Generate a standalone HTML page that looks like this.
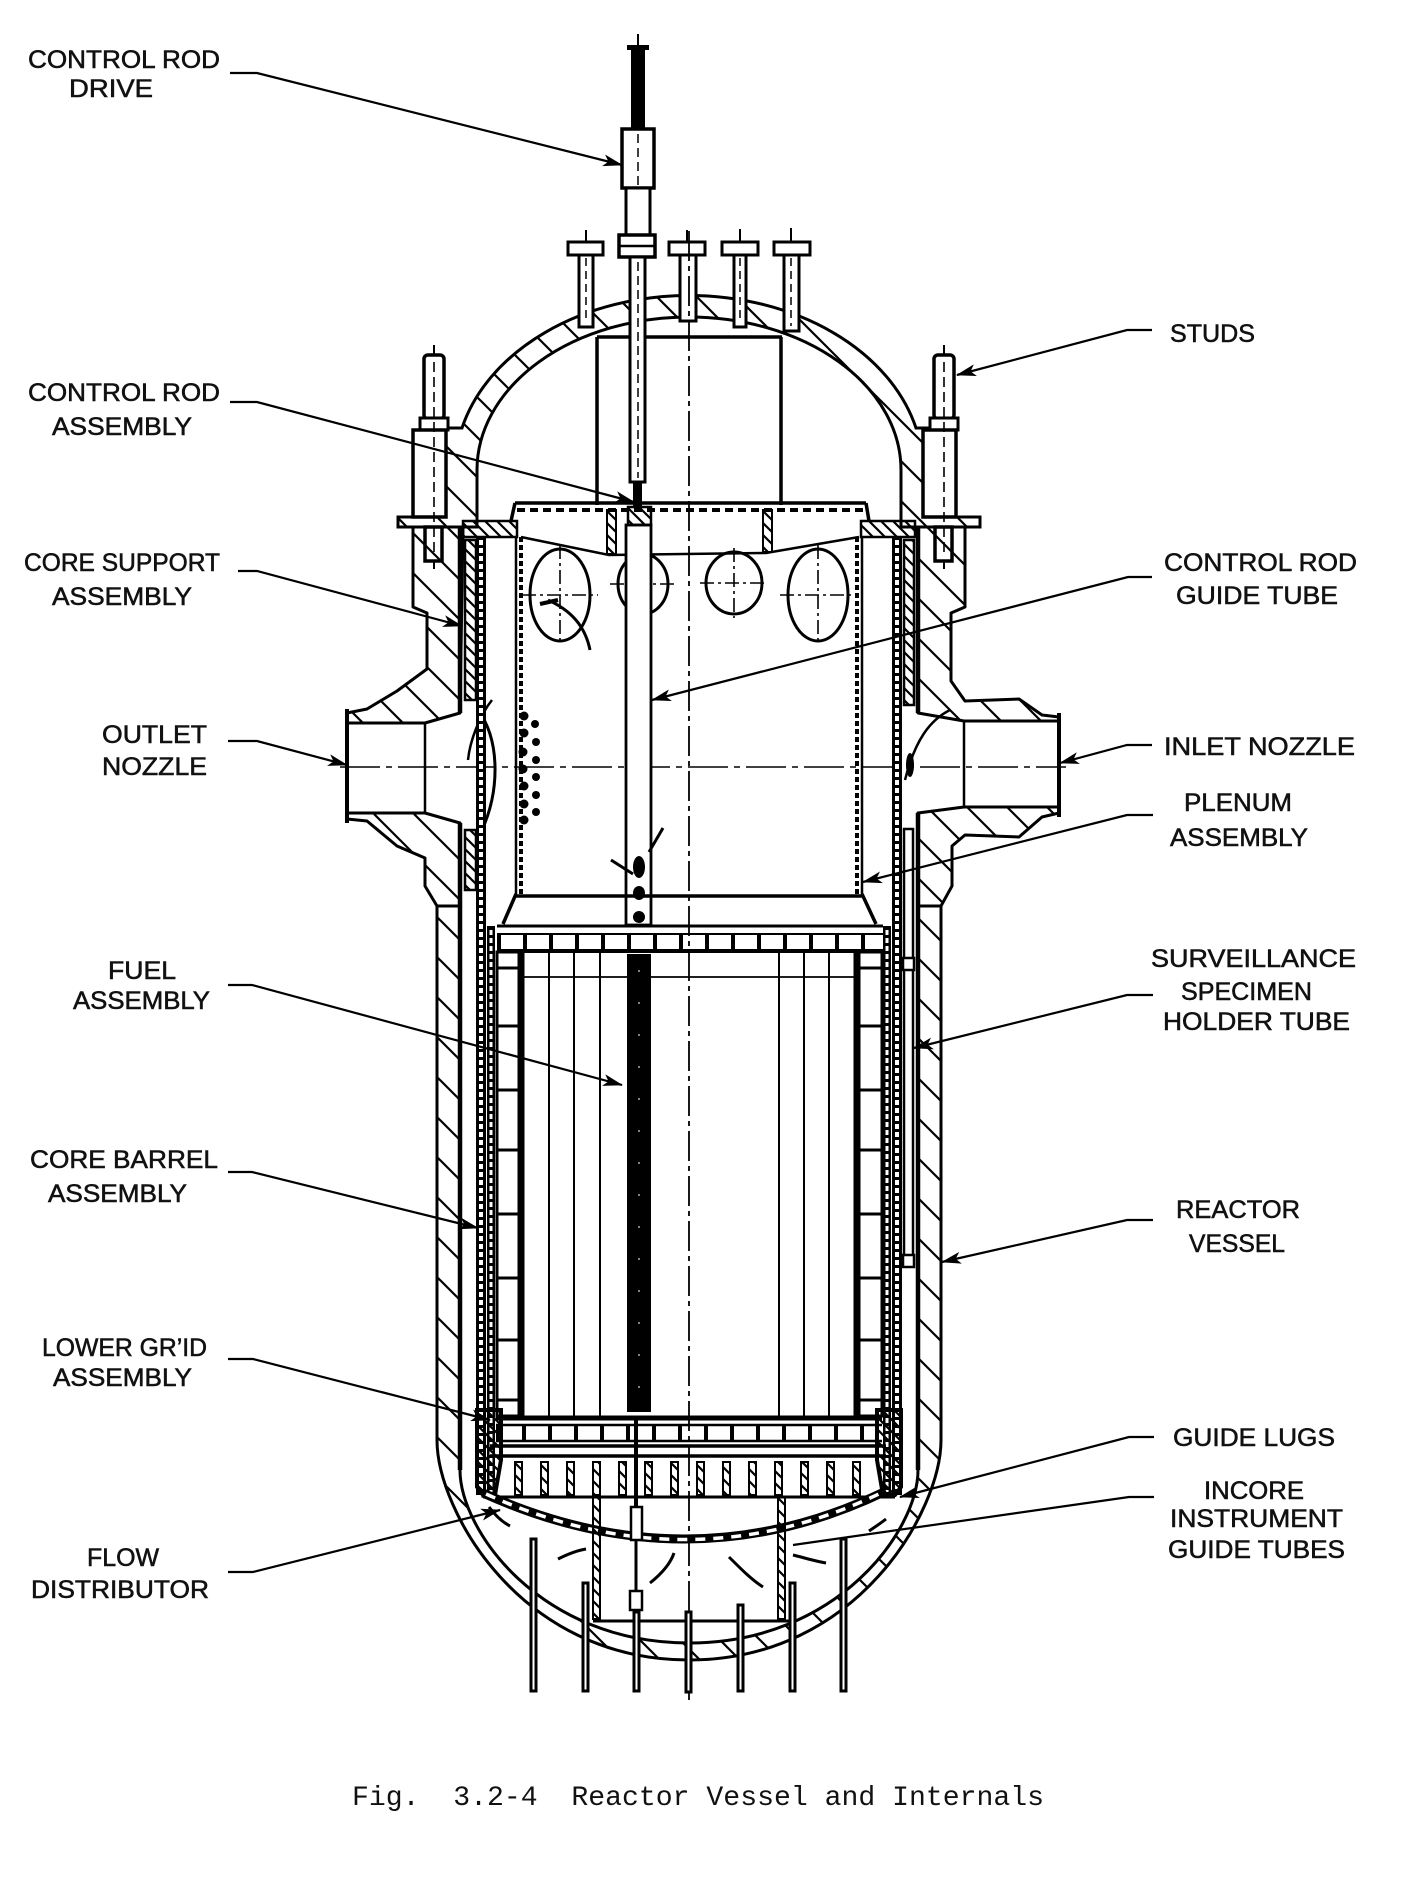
<!DOCTYPE html>
<html><head><meta charset="utf-8"><title>Fig. 3.2-4 Reactor Vessel and Internals</title>
<style>
html,body{margin:0;padding:0;background:#fff;}
body{width:1427px;height:1887px;overflow:hidden;position:relative;}
svg{position:absolute;left:0;top:0;}
.lb{font-family:"Liberation Sans",Arial,sans-serif;font-size:25px;fill:#111;stroke:#111;stroke-width:0.55px;}
.cap{font-family:"Liberation Mono","Courier New",monospace;font-size:28px;fill:#111;}
.ld{fill:none;stroke:#000;stroke-width:2.2;}
.k{stroke:#000;fill:none;}
.w{stroke:#000;fill:#fff;}
</style></head><body>
<svg width="1427" height="1887" viewBox="0 0 1427 1887" xmlns="http://www.w3.org/2000/svg">
<defs>
 <pattern id="h" width="40" height="40" patternUnits="userSpaceOnUse"><path d="M-10,-10L50,50M-10,30L10,50M30,-10L50,10" stroke="#000" stroke-width="2.2"/></pattern>
 <pattern id="hs" width="12" height="12" patternUnits="userSpaceOnUse"><path d="M-3,-3L15,15M-3,9L3,15M9,-3L15,3" stroke="#000" stroke-width="2.2"/></pattern>
 <marker id="a" markerWidth="22" markerHeight="12" refX="19" refY="6" orient="auto" markerUnits="userSpaceOnUse"><path d="M0,0L20,6L0,12L5,6Z" fill="#000"/></marker>
</defs>

<!-- ===== CLOSURE HEAD ===== -->
<path d="M462,428 A234,175 0 0 1 916,428 L932,428 L932,517 L980,517 L980,527 L901,527 L901,470 A212,153 0 0 0 477,470 L477,527 L398,527 L398,517 L446,517 L446,428 Z" fill="url(#h)" stroke="#000" stroke-width="3"/>

<!-- head internal support cylinder -->
<path d="M597,337 L782,337 M597,337 L597,505 M781,337 L781,505" class="k" stroke-width="3.5"/>

<!-- head nozzles -->
<g stroke="#000" stroke-width="3" fill="#fff">
 <rect x="579" y="255" width="14" height="72"/><rect x="568" y="242" width="35" height="13"/>
 <rect x="680" y="255" width="16" height="66"/><rect x="669" y="242" width="36" height="13"/>
 <rect x="734" y="255" width="12" height="72"/><rect x="722" y="242" width="36" height="13"/>
 <rect x="784" y="255" width="15" height="76"/><rect x="774" y="242" width="36" height="13"/>
</g>
<path d="M586,230V242M687,230V242M740,229V242M791,228V242" stroke="#000" stroke-width="2"/>
<path d="M586,258V322M740,258V322M791,258V326" stroke="#000" stroke-width="1.5" stroke-dasharray="8,5"/>

<!-- control rod drive -->
<path d="M638,34V48" stroke="#000" stroke-width="2"/>
<rect x="627" y="45" width="22" height="5" fill="#000"/>
<rect x="631" y="48" width="14" height="82" fill="#000"/>
<rect x="622" y="129" width="32" height="59" class="w" stroke-width="3.5"/>
<rect x="626" y="188" width="24" height="47" class="w" stroke-width="3"/>
<rect x="619" y="235" width="36" height="22" class="w" stroke-width="3.5"/>
<path d="M619,246H655" stroke="#000" stroke-width="2.5"/>
<rect x="630" y="257" width="15" height="225" class="w" stroke-width="3"/>
<rect x="633" y="482" width="9" height="25" fill="#000"/>
<path d="M638,134V186M638,262V478" stroke="#000" stroke-width="1.5" stroke-dasharray="9,5"/>

<!-- studs -->
<g id="stud">
 <path d="M434,345V357" stroke="#000" stroke-width="2"/>
 <rect x="424" y="355" width="20" height="64" rx="4" class="w" stroke-width="3.5"/>
 <rect x="420" y="418" width="28" height="12" class="w" stroke-width="3"/>
 <rect x="413" y="430" width="33" height="87" class="w" stroke-width="3.5"/>
 <rect x="425" y="527" width="17" height="34" class="w" stroke-width="3.5"/>
 <path d="M434,561V569" stroke="#000" stroke-width="2"/>
 <path d="M434,362V555" stroke="#000" stroke-width="1.6" stroke-dasharray="10,5"/>
</g>
<use href="#stud" transform="translate(510,0)"/>

<!-- ===== VESSEL ===== -->
<g fill="url(#h)" stroke="#000" stroke-width="3" stroke-linejoin="round">
 <polygon points="413,527 463,527 460,713 425,723 347,723 347,713 367,709 397,691 427,669 427,640 427,613 413,607"/>
 <polygon points="347,813 425,813 460,823 460,906 437,906 425,886 425,858 397,846 367,821 347,819"/>
 <polygon points="918,527 965,527 965,607 951,613 951,681 965,701 1019,699 1042,715 1059,717 1059,721 964,721 918,713"/>
 <polygon points="918,813 964,807 1059,807 1059,813 1042,817 1019,837 965,835 952,846 952,886 941,906 918,906"/>
 <path d="M437,906 L437,1440 C437,1510 520,1660 689,1660 C858,1660 941,1510 941,1440 L941,906 L918,906 L918,1470 C918,1530 838,1643 689,1643 C540,1643 460,1530 460,1470 L460,906 Z"/>
</g>
<!-- thick inner wall lines -->
<path d="M460,527V713M460,823V1470M918,527V713M918,813V1470" stroke="#000" stroke-width="4.5"/>
<!-- nozzle steps & faces -->
<path d="M425,723V813M964,721V807" stroke="#000" stroke-width="2.5"/>
<path d="M347,709V823M1059,713V817" stroke="#000" stroke-width="4"/>
<path d="M340,767H1066" stroke="#000" stroke-width="1.6" stroke-dasharray="40,6,6,6"/>

<!-- ===== INTERNALS ===== -->
<!-- core support near nozzles -->
<rect x="465" y="540" width="11" height="160" fill="url(#hs)" stroke="#000" stroke-width="2.5"/>
<rect x="465" y="830" width="11" height="60" fill="url(#hs)" stroke="#000" stroke-width="2.5"/>
<rect x="904" y="540" width="10" height="165" fill="url(#hs)" stroke="#000" stroke-width="2.5"/>

<!-- plenum flange/cover -->
<rect x="463" y="521" width="54" height="16" fill="url(#hs)" stroke="#000" stroke-width="2.5"/>
<rect x="861" y="521" width="54" height="16" fill="url(#hs)" stroke="#000" stroke-width="2.5"/>
<path d="M515,503H866M515,503L511,521M866,503L869,521" class="k" stroke-width="3.5"/>
<path d="M517,510H864" stroke="#000" stroke-width="4" stroke-dasharray="8,5"/>
<path d="M521,537 L609,555 L766,553 L859,537" class="k" stroke-width="2.5"/>
<rect x="607" y="510" width="9" height="44" fill="url(#hs)" stroke="#000" stroke-width="2"/>
<rect x="763" y="510" width="9" height="42" fill="url(#hs)" stroke="#000" stroke-width="2"/>

<!-- plenum walls -->
<path d="M516,537V895M862,537V895" stroke="#000" stroke-width="2.5"/>
<path d="M521,537V895M857,537V895" stroke="#000" stroke-width="4" stroke-dasharray="5,3"/>

<!-- plenum holes -->
<g class="k" stroke-width="3">
 <ellipse cx="560" cy="595" rx="30" ry="46"/>
 <ellipse cx="643" cy="584" rx="25" ry="30"/>
 <ellipse cx="734" cy="583" rx="28" ry="31"/>
 <ellipse cx="818" cy="595" rx="30" ry="46"/>
</g>
<path d="M522,595H598M560,545V645M610,584H676M643,550V618M700,583H768M734,548V618M780,595H856M818,545V645" stroke="#000" stroke-width="1.6" stroke-dasharray="14,4,3,4"/>
<path d="M548,600 C570,610 585,625 590,650" class="k" stroke-width="3"/>
<path d="M540,604 L558,600" class="k" stroke-width="4"/>

<!-- guide tube -->
<rect x="626" y="525" width="25" height="400" class="w" stroke-width="2.8"/>
<rect x="628" y="507" width="23" height="18" fill="url(#hs)" stroke="#000" stroke-width="2.5"/>
<!-- spider -->
<ellipse cx="639" cy="867" rx="6" ry="11" fill="#000"/>
<ellipse cx="639" cy="893" rx="6" ry="7" fill="#000"/>
<ellipse cx="639" cy="917" rx="6" ry="6" fill="#000"/>
<path d="M611,860 L633,874 M649,852 L663,828" class="k" stroke-width="3"/>

<!-- outlet perforations -->
<g fill="#000">
 <circle cx="524" cy="716" r="4.5"/><circle cx="535" cy="724" r="4"/><circle cx="524" cy="733" r="4.5"/><circle cx="536" cy="742" r="4"/>
 <circle cx="523" cy="752" r="4.5"/><circle cx="536" cy="760" r="4"/><circle cx="523" cy="769" r="4.5"/><circle cx="536" cy="777" r="4"/>
 <circle cx="524" cy="786" r="4.5"/><circle cx="536" cy="795" r="4"/><circle cx="524" cy="804" r="4.5"/><circle cx="536" cy="812" r="4"/><circle cx="524" cy="820" r="4.5"/>
</g>
<!-- nozzle flow arrows -->
<path d="M478,710 C500,740 500,790 482,830" class="k" stroke-width="3"/>
<path d="M492,700 C480,715 470,740 468,760" class="k" stroke-width="2.5"/>
<path d="M905,780 C915,740 930,720 950,710" class="k" stroke-width="2.5"/>
<ellipse cx="910" cy="765" rx="4" ry="12" fill="#000"/>
<ellipse cx="481" cy="767" rx="4" ry="14" fill="#000"/>

<!-- plenum bottom & upper grid -->
<path d="M516,896H862M516,894L503,924M862,894L876,924" class="k" stroke-width="3.5"/>
<path d="M497,926H883" stroke="#000" stroke-width="3"/>
<path d="M497,934H883" stroke="#000" stroke-width="2"/>
<path d="M497,942H883" stroke="#000" stroke-width="14" stroke-dasharray="4,22"/>
<path d="M497,951H883" stroke="#000" stroke-width="4"/>

<!-- core barrel & thermal shield -->
<rect x="476" y="537" width="10" height="958" fill="#000"/>
<path d="M481,540V1492" stroke="#fff" stroke-width="4" stroke-dasharray="5,3"/>
<rect x="487" y="926" width="8" height="569" fill="#000"/>
<path d="M491,930V1492" stroke="#fff" stroke-width="3" stroke-dasharray="5,3"/>
<rect x="892" y="537" width="10" height="958" fill="#000"/>
<path d="M897,540V1492" stroke="#fff" stroke-width="4" stroke-dasharray="5,3"/>
<rect x="883" y="926" width="8" height="569" fill="#000"/>
<path d="M887,930V1492" stroke="#fff" stroke-width="3" stroke-dasharray="5,3"/>

<!-- surveillance tube -->
<rect x="904" y="829" width="9" height="437" class="w" stroke-width="2.5"/>
<rect x="903" y="958" width="11" height="12" class="w" stroke-width="2.5"/>
<rect x="903" y="1255" width="11" height="12" class="w" stroke-width="2.5"/>

<!-- baffles -->
<g class="k" stroke-width="3">
 <rect x="497" y="952" width="22" height="16"/><rect x="497" y="968" width="22" height="58"/><rect x="497" y="1026" width="22" height="64"/>
 <rect x="497" y="1090" width="22" height="60"/><rect x="497" y="1150" width="22" height="64"/><rect x="497" y="1214" width="22" height="64"/>
 <rect x="497" y="1278" width="22" height="62"/><rect x="497" y="1340" width="22" height="60"/><rect x="497" y="1400" width="22" height="16"/>
 <rect x="859" y="952" width="23" height="16"/><rect x="859" y="968" width="23" height="58"/><rect x="859" y="1026" width="23" height="64"/>
 <rect x="859" y="1090" width="23" height="60"/><rect x="859" y="1150" width="23" height="64"/><rect x="859" y="1214" width="23" height="64"/>
 <rect x="859" y="1278" width="23" height="62"/><rect x="859" y="1340" width="23" height="60"/><rect x="859" y="1400" width="23" height="16"/>
</g>

<!-- fuel assemblies -->
<path d="M522,952V1416M856,952V1416" stroke="#000" stroke-width="5"/>
<path d="M549,952V1416M574,952V1416M600,952V1416M779,952V1416M804,952V1416M829,952V1416" stroke="#000" stroke-width="2"/>
<path d="M524,977H854" stroke="#000" stroke-width="1.8"/>
<rect x="627" y="954" width="24" height="458" fill="#000"/>
<path d="M639,970V1400" stroke="#fff" stroke-width="1" stroke-dasharray="2,30"/>

<!-- centerline -->
<path d="M689,231V1700" stroke="#000" stroke-width="1.8" stroke-dasharray="30,5,5,5"/>

<!-- lower grid -->
<path d="M496,1418H882" stroke="#000" stroke-width="5"/>
<path d="M496,1425H882M496,1441H882" stroke="#000" stroke-width="2.5"/>
<path d="M496,1433H882" stroke="#000" stroke-width="16" stroke-dasharray="4,22"/>
<path d="M490,1446H886M490,1456H886" stroke="#000" stroke-width="3.5"/>
<g fill="url(#hs)" stroke="#000" stroke-width="2">
 <rect x="515" y="1462" width="7" height="33"/><rect x="541" y="1462" width="7" height="33"/><rect x="567" y="1462" width="7" height="33"/>
 <rect x="593" y="1462" width="7" height="33"/><rect x="619" y="1462" width="7" height="33"/><rect x="645" y="1462" width="7" height="33"/>
 <rect x="671" y="1462" width="7" height="33"/><rect x="697" y="1462" width="7" height="33"/><rect x="723" y="1462" width="7" height="33"/>
 <rect x="749" y="1462" width="7" height="33"/><rect x="775" y="1462" width="7" height="33"/><rect x="801" y="1462" width="7" height="33"/>
 <rect x="827" y="1462" width="7" height="33"/><rect x="853" y="1462" width="7" height="33"/>
</g>
<path d="M483,1497H895" stroke="#000" stroke-width="3"/>
<polygon points="477,1410 501,1410 501,1460 495,1495 483,1495 477,1487" fill="url(#hs)" stroke="#000" stroke-width="4"/>
<polygon points="901,1410 877,1410 877,1460 883,1495 895,1495 901,1487" fill="url(#hs)" stroke="#000" stroke-width="4"/>

<!-- flow distributor -->
<path d="M483,1493 Q689,1586 886,1491" fill="none" stroke="#000" stroke-width="9"/>
<path d="M486,1494 Q689,1586 883,1492" fill="none" stroke="#fff" stroke-width="3.5" stroke-dasharray="10,8"/>
<rect x="593" y="1497" width="7" height="122" fill="url(#hs)" stroke="#000" stroke-width="2"/>
<rect x="778" y="1497" width="7" height="122" fill="url(#hs)" stroke="#000" stroke-width="2"/>
<path d="M593,1621H793" stroke="#000" stroke-width="3"/>

<!-- incore instrument tube inside -->
<path d="M636,1420V1507" stroke="#000" stroke-width="4"/>
<rect x="631" y="1507" width="11" height="33" class="w" stroke-width="2.5"/>
<path d="M636,1540V1591" stroke="#000" stroke-width="3"/>
<rect x="630" y="1591" width="12" height="19" class="w" stroke-width="2.5"/>

<!-- incore tubes below vessel -->
<g stroke="#000" stroke-width="3" fill="#fff">
 <rect x="531" y="1539" width="5" height="152"/>
 <rect x="583" y="1583" width="5" height="108"/>
 <rect x="634" y="1612" width="5" height="79"/>
 <rect x="686" y="1612" width="5" height="80"/>
 <rect x="738" y="1605" width="5" height="86"/>
 <rect x="790" y="1583" width="5" height="108"/>
 <rect x="841" y="1539" width="5" height="152"/>
</g>

<!-- flow arrows lower plenum -->
<g class="k" stroke-width="3">
 <path d="M558,1559 C570,1553 580,1550 586,1549"/>
 <path d="M729,1557 C742,1570 752,1580 763,1587"/>
 <path d="M793,1555 C805,1558 815,1561 826,1563"/>
 <path d="M489,1507 C495,1515 502,1522 510,1526"/>
 <path d="M869,1531 C875,1527 881,1523 886,1519"/>
 <path d="M650,1583 C660,1575 670,1565 674,1553"/>
</g>

<!-- ===== LEADERS ===== -->
<g class="ld">
 <polyline points="230,73 257,73 622,165" marker-end="url(#a)"/>
 <polyline points="230,402 257,402 634,502" marker-end="url(#a)"/>
 <polyline points="238,571 257,571 462,626" marker-end="url(#a)"/>
 <polyline points="228,741 257,741 347,765" marker-end="url(#a)"/>
 <polyline points="228,985 252,985 622,1085" marker-end="url(#a)"/>
 <polyline points="228,1172 252,1172 478,1228" marker-end="url(#a)"/>
 <polyline points="228,1359 253,1359 490,1420" marker-end="url(#a)"/>
 <polyline points="228,1572 253,1572 500,1510" marker-end="url(#a)"/>
 <polyline points="1152,330 1127,330 957,375" marker-end="url(#a)"/>
 <polyline points="1152,577 1128,577 652,700" marker-end="url(#a)"/>
 <polyline points="1152,745 1127,745 1060,763" marker-end="url(#a)"/>
 <polyline points="1153,815 1127,815 863,882" marker-end="url(#a)"/>
 <polyline points="1153,995 1127,995 914,1048" marker-end="url(#a)"/>
 <polyline points="1153,1220 1127,1220 942,1262" marker-end="url(#a)"/>
 <polyline points="1154,1437 1129,1437 900,1497" marker-end="url(#a)"/>
 <polyline points="1154,1497 1129,1497 793,1545"/>
</g>

<!-- ===== LABELS ===== -->
<g class="lb">
 <text x="28" y="68" textLength="192" lengthAdjust="spacingAndGlyphs">CONTROL ROD</text>
 <text x="69" y="97" textLength="84" lengthAdjust="spacingAndGlyphs">DRIVE</text>
 <text x="28" y="401" textLength="192" lengthAdjust="spacingAndGlyphs">CONTROL ROD</text>
 <text x="52" y="435" textLength="140" lengthAdjust="spacingAndGlyphs">ASSEMBLY</text>
 <text x="24" y="571" textLength="196" lengthAdjust="spacingAndGlyphs">CORE SUPPORT</text>
 <text x="52" y="605" textLength="140" lengthAdjust="spacingAndGlyphs">ASSEMBLY</text>
 <text x="102" y="743" textLength="105" lengthAdjust="spacingAndGlyphs">OUTLET</text>
 <text x="102" y="775" textLength="105" lengthAdjust="spacingAndGlyphs">NOZZLE</text>
 <text x="108" y="979" textLength="68" lengthAdjust="spacingAndGlyphs">FUEL</text>
 <text x="73" y="1009" textLength="137" lengthAdjust="spacingAndGlyphs">ASSEMBLY</text>
 <text x="30" y="1168" textLength="188" lengthAdjust="spacingAndGlyphs">CORE BARREL</text>
 <text x="48" y="1202" textLength="139" lengthAdjust="spacingAndGlyphs">ASSEMBLY</text>
 <text x="42" y="1356" textLength="165" lengthAdjust="spacingAndGlyphs">LOWER GR’ID</text>
 <text x="53" y="1386" textLength="139" lengthAdjust="spacingAndGlyphs">ASSEMBLY</text>
 <text x="87" y="1566" textLength="72" lengthAdjust="spacingAndGlyphs">FLOW</text>
 <text x="31" y="1598" textLength="178" lengthAdjust="spacingAndGlyphs">DISTRIBUTOR</text>

 <text x="1170" y="342" textLength="85" lengthAdjust="spacingAndGlyphs">STUDS</text>
 <text x="1164" y="571" textLength="193" lengthAdjust="spacingAndGlyphs">CONTROL ROD</text>
 <text x="1176" y="604" textLength="162" lengthAdjust="spacingAndGlyphs">GUIDE TUBE</text>
 <text x="1164" y="755" textLength="191" lengthAdjust="spacingAndGlyphs">INLET NOZZLE</text>
 <text x="1184" y="811" textLength="108" lengthAdjust="spacingAndGlyphs">PLENUM</text>
 <text x="1170" y="846" textLength="138" lengthAdjust="spacingAndGlyphs">ASSEMBLY</text>
 <text x="1151" y="967" textLength="205" lengthAdjust="spacingAndGlyphs">SURVEILLANCE</text>
 <text x="1181" y="1000" textLength="131" lengthAdjust="spacingAndGlyphs">SPECIMEN</text>
 <text x="1163" y="1030" textLength="187" lengthAdjust="spacingAndGlyphs">HOLDER TUBE</text>
 <text x="1176" y="1218" textLength="124" lengthAdjust="spacingAndGlyphs">REACTOR</text>
 <text x="1189" y="1252" textLength="96" lengthAdjust="spacingAndGlyphs">VESSEL</text>
 <text x="1173" y="1446" textLength="162" lengthAdjust="spacingAndGlyphs">GUIDE LUGS</text>
 <text x="1204" y="1499" textLength="100" lengthAdjust="spacingAndGlyphs">INCORE</text>
 <text x="1170" y="1527" textLength="173" lengthAdjust="spacingAndGlyphs">INSTRUMENT</text>
 <text x="1168" y="1558" textLength="177" lengthAdjust="spacingAndGlyphs">GUIDE TUBES</text>
</g>

<text class="cap" x="352" y="1805" textLength="692" lengthAdjust="spacingAndGlyphs" xml:space="preserve">Fig.  3.2-4  Reactor Vessel and Internals</text>
</svg>
</body></html>
